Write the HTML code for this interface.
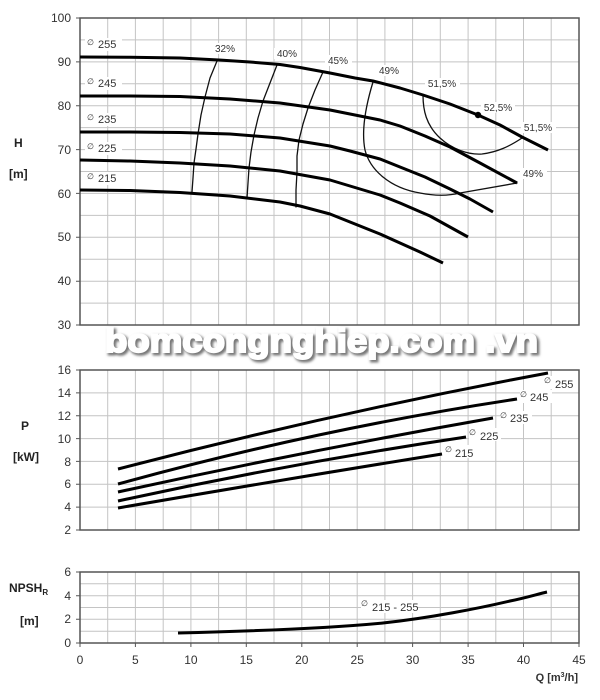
<!DOCTYPE html>
<html>
<head>
<meta charset="utf-8">
<style>
html,body{margin:0;padding:0;background:#fff;}
svg{display:block;}
text{font-family:"Liberation Sans","DejaVu Sans",sans-serif;}
</style>
</head>
<body>
<svg width="600" height="700" viewBox="0 0 600 700" xmlns="http://www.w3.org/2000/svg">
<defs>
<filter id="bl" x="-5%" y="-40%" width="110%" height="180%">
<feGaussianBlur stdDeviation="1.4"/>
</filter>
</defs>
<rect width="600" height="700" fill="#fff"/>

<!-- ============ TOP CHART (H) ============ -->
<g stroke="#c4c4c4" stroke-width="1" fill="none">
<path d="M107.7 18V325M135.4 18V325M163.2 18V325M190.9 18V325M218.6 18V325M246.3 18V325M274 18V325M301.8 18V325M329.5 18V325M357.2 18V325M384.9 18V325M412.6 18V325M440.3 18V325M468.1 18V325M495.8 18V325M523.5 18V325M551.2 18V325"/>
<path d="M80 39.9H579M80 61.9H579M80 83.8H579M80 105.7H579M80 127.6H579M80 149.6H579M80 171.5H579M80 193.4H579M80 215.4H579M80 237.3H579M80 259.2H579M80 281.2H579M80 303.1H579"/>
</g>
<rect x="80" y="18" width="499" height="307" fill="none" stroke="#555" stroke-width="1.5"/>
<g stroke="#555" stroke-width="1">
<path d="M76 18H80M76 61.9H80M76 105.7H80M76 149.6H80M76 193.4H80M76 237.3H80M76 281.2H80M76 325H80"/>
</g>
<g font-size="12" fill="#333" text-anchor="end">
<text x="71" y="22">100</text>
<text x="71" y="66">90</text>
<text x="71" y="110">80</text>
<text x="71" y="154">70</text>
<text x="71" y="198">60</text>
<text x="71" y="241">50</text>
<text x="71" y="285">40</text>
<text x="71" y="329">30</text>
</g>
<text x="14" y="147" font-size="12" font-weight="bold" fill="#222">H</text>
<text x="9" y="178" font-size="12" font-weight="bold" fill="#222">[m]</text>

<!-- diameter labels top -->
<g fill="#fff">
<rect x="85" y="38" width="37" height="13"/>
<rect x="85" y="77" width="37" height="13"/>
<rect x="85" y="113" width="37" height="13"/>
<rect x="85" y="142" width="37" height="13"/>
<rect x="85" y="172" width="37" height="13"/>
</g>
<g font-size="11" fill="#333">
<text x="87" y="45" font-size="8">∅</text><text x="98" y="48">255</text>
<text x="87" y="84" font-size="8">∅</text><text x="98" y="87">245</text>
<text x="87" y="120" font-size="8">∅</text><text x="98" y="123">235</text>
<text x="87" y="149" font-size="8">∅</text><text x="98" y="152">225</text>
<text x="87" y="179" font-size="8">∅</text><text x="98" y="182">215</text>
</g>

<!-- efficiency curves -->
<g stroke="#111" stroke-width="1.3" fill="none" stroke-linejoin="round" stroke-linecap="round">
<polyline points="217,61 210,78 205,97 201,115 198,134 196,149 194,163 193,178 192,192"/>
<polyline points="277,65 270,83 263,101 258,118 254,135 251,152 249,168 248,183 247,198"/>
<polyline points="323,72 315,90 308,108 303,124 299,140 297,156 297,172 296,190 296,207"/>
<path d="M373 82 C366 105, 361 130, 365 150 C370 170, 390 188, 420 193 C435 196, 448 196, 460 193 L517 183"/>
<path d="M423 95 C423 110, 426 125, 440 138 C452 149, 468 155, 482 154 C498 152, 510 146, 522 138"/>
</g>

<!-- efficiency labels -->
<g fill="#fff">
<rect x="212" y="43" width="27" height="11"/>
<rect x="274" y="48" width="27" height="11"/>
<rect x="325" y="55" width="27" height="11"/>
<rect x="376" y="65" width="27" height="11"/>
<rect x="425" y="78" width="35" height="11"/>
<rect x="481" y="102" width="34" height="11"/>
<rect x="521" y="122" width="35" height="11"/>
<rect x="520" y="168" width="27" height="11"/>
</g>
<g font-size="10" fill="#333" text-anchor="middle">
<text x="225" y="52">32%</text>
<text x="287" y="57">40%</text>
<text x="338" y="64">45%</text>
<text x="389" y="74">49%</text>
<text x="442" y="87">51,5%</text>
<text x="498" y="111">52,5%</text>
<text x="538" y="131">51,5%</text>
<text x="533" y="177">49%</text>
</g>

<!-- H curves -->
<g stroke="#000" stroke-width="3" fill="none" stroke-linejoin="round" stroke-linecap="butt">
<polyline points="80,57 130,57.3 180,58 219,60 250,62 280,64.5 300,67.5 330,73 355,78 373,81 400,88 423,95 450,104 478,115 500,125 522,137 548,150"/>
<polyline points="80,96 130,96 180,96.5 230,99 280,103 330,110 350,114 380,120 400,126 425,136 450,147 480,163 517,183"/>
<polyline points="80,132 130,132 180,132.5 230,134 280,138 330,146 350,151 380,159 400,167 425,177 450,189 470,199 493,212"/>
<polyline points="80,160 130,161 180,163 230,166 280,171 330,180 350,186 380,195 400,203 430,216 468,237"/>
<polyline points="80,190 130,190.5 180,192.5 230,196 280,202 300,206 330,214 350,222 380,234 400,243 420,252 443,263"/>
</g>
<circle cx="478" cy="115" r="3.2" fill="#000"/>

<!-- watermark -->
<g font-family="'Liberation Serif',serif" font-size="33" font-weight="bold" style="font-family:'Liberation Serif',serif">
<text x="107" y="354" fill="#777" stroke="#777" stroke-width="3" textLength="433" lengthAdjust="spacingAndGlyphs" filter="url(#bl)">bomcongnghiep.com .vn</text>
<text x="105" y="352" fill="#fff" stroke="#fff" stroke-width="2" textLength="433" lengthAdjust="spacingAndGlyphs">bomcongnghiep.com .vn</text>
</g>

<!-- ============ P CHART ============ -->
<g stroke="#c4c4c4" stroke-width="1" fill="none">
<path d="M107.7 370V530M135.4 370V530M163.2 370V530M190.9 370V530M218.6 370V530M246.3 370V530M274 370V530M301.8 370V530M329.5 370V530M357.2 370V530M384.9 370V530M412.6 370V530M440.3 370V530M468.1 370V530M495.8 370V530M523.5 370V530M551.2 370V530"/>
<path d="M80 392.9H579M80 415.7H579M80 438.6H579M80 461.4H579M80 484.3H579M80 507.1H579"/>
</g>
<rect x="80" y="370" width="499" height="160" fill="none" stroke="#555" stroke-width="1.5"/>
<g stroke="#555" stroke-width="1">
<path d="M76 370H80M76 392.9H80M76 415.7H80M76 438.6H80M76 461.4H80M76 484.3H80M76 507.1H80M76 530H80"/>
</g>
<g font-size="12" fill="#333" text-anchor="end">
<text x="71" y="374">16</text>
<text x="71" y="397">14</text>
<text x="71" y="420">12</text>
<text x="71" y="443">10</text>
<text x="71" y="466">8</text>
<text x="71" y="488">6</text>
<text x="71" y="511">4</text>
<text x="71" y="534">2</text>
</g>
<text x="21" y="430" font-size="12" font-weight="bold" fill="#222">P</text>
<text x="13" y="461" font-size="12" font-weight="bold" fill="#222">[kW]</text>

<g stroke="#000" stroke-width="3" fill="none" stroke-linecap="butt">
<path d="M118 469 Q333 413 548 373"/>
<path d="M118 484 Q317.5 429 517 399"/>
<path d="M118 492 Q305.5 451 493 418"/>
<path d="M118 501 Q292 463 466 437"/>
<path d="M118 508 Q280 480 442 454"/>
</g>
<g fill="#fff">
<rect x="544" y="376" width="32" height="13"/>
<rect x="520" y="390" width="32" height="13"/>
<rect x="500" y="411" width="32" height="13"/>
<rect x="469" y="428" width="32" height="13"/>
<rect x="445" y="445" width="32" height="13"/>
</g>
<g font-size="11" fill="#333">
<text x="544" y="383" font-size="8">∅</text><text x="555" y="388">255</text>
<text x="520" y="397" font-size="8">∅</text><text x="530" y="401">245</text>
<text x="500" y="418" font-size="8">∅</text><text x="510" y="422">235</text>
<text x="469" y="435" font-size="8">∅</text><text x="480" y="440">225</text>
<text x="445" y="452" font-size="8">∅</text><text x="455" y="457">215</text>
</g>

<!-- ============ NPSH CHART ============ -->
<g stroke="#c4c4c4" stroke-width="1" fill="none">
<path d="M107.7 572V643M135.4 572V643M163.2 572V643M190.9 572V643M218.6 572V643M246.3 572V643M274 572V643M301.8 572V643M329.5 572V643M357.2 572V643M384.9 572V643M412.6 572V643M440.3 572V643M468.1 572V643M495.8 572V643M523.5 572V643M551.2 572V643"/>
<path d="M80 583.8H579M80 595.7H579M80 607.5H579M80 619.3H579M80 631.2H579"/>
</g>
<rect x="80" y="572" width="499" height="71" fill="none" stroke="#555" stroke-width="1.5"/>
<g stroke="#555" stroke-width="1">
<path d="M76 572H80M76 595.7H80M76 619.3H80M76 643H80"/>
<path d="M80 643V647M135.4 643V647M190.9 643V647M246.3 643V647M301.8 643V647M357.2 643V647M412.6 643V647M468.1 643V647M523.5 643V647M579 643V647"/>
</g>
<g font-size="12" fill="#333" text-anchor="end">
<text x="71" y="576">6</text>
<text x="71" y="600">4</text>
<text x="71" y="623">2</text>
<text x="71" y="647">0</text>
</g>
<text x="9" y="592" font-size="12" font-weight="bold" fill="#222">NPSH<tspan font-size="8" dy="3">R</tspan></text>
<text x="20" y="625" font-size="12" font-weight="bold" fill="#222">[m]</text>

<rect x="361" y="600" width="56" height="13" fill="#fff"/>
<g font-size="11" fill="#333">
<text x="361" y="606" font-size="8">∅</text><text x="372" y="611">215 - 255</text>
</g>
<path d="M178 633 C260 631, 330 628, 383 623 C430 618, 480 608, 510 601 C525 598, 538 594, 547 592" stroke="#000" stroke-width="3" fill="none"/>

<!-- x axis labels -->
<g font-size="12" fill="#333" text-anchor="middle">
<text x="80" y="664">0</text>
<text x="135.4" y="664">5</text>
<text x="190.9" y="664">10</text>
<text x="246.3" y="664">15</text>
<text x="301.8" y="664">20</text>
<text x="357.2" y="664">25</text>
<text x="412.6" y="664">30</text>
<text x="468.1" y="664">35</text>
<text x="523.5" y="664">40</text>
<text x="579" y="664">45</text>
</g>
<text x="578" y="681" font-size="11" font-weight="bold" fill="#333" text-anchor="end">Q [m<tspan font-size="7" dy="-4">3</tspan><tspan dy="4">/h]</tspan></text>
</svg>
</body>
</html>
